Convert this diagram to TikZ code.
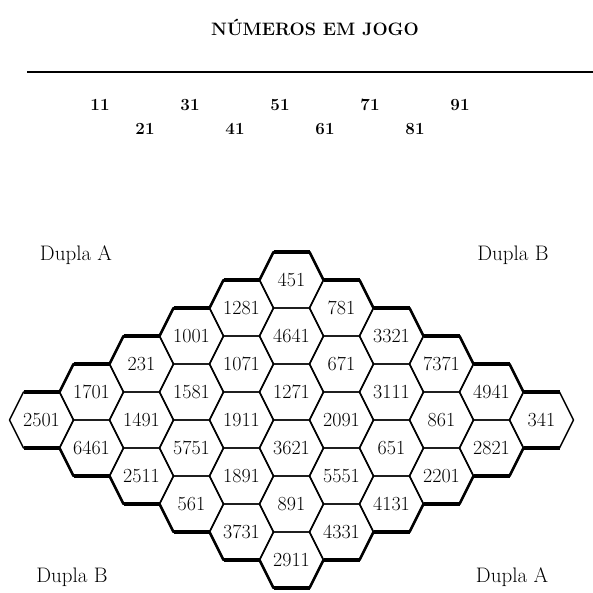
\documentclass[tikz,border=0pt]{standalone}
\usepackage{fontspec}
\begin{document}
\begin{tikzpicture}[x=1pt,y=-1pt,
    hexedge/.style={line width=1.4pt, line join=round},
    bordaH/.style={line width=4pt},
    bordaS/.style={line width=2.6pt, line cap=round},
    hexnum/.style={font=\fontsize{20}{22}\selectfont, inner sep=0pt},
    jogo/.style={font=\fontsize{17}{19}\selectfont\bfseries, inner sep=0pt, anchor=base},
    dupla/.style={font=\fontsize{21}{23}\selectfont, inner sep=0pt, anchor=base}]
    \useasboundingbox (0,0) rectangle (593,592);

    \node[font=\fontsize{18}{20}\selectfont\bfseries, inner sep=0pt, anchor=base] (titulo) at (315,35) {NÚMEROS EM JOGO};
    \coordinate (linhaE) at (27,72);
    \coordinate (linhaD) at (593,72);
    \draw[line width=2pt] (linhaE) -- (linhaD);

    \foreach \x/\y/\n in {100/110/11,145/134/21,190/110/31,235/134/41,280/110/51,
                          325/134/61,370/110/71,415/134/81,460/110/91} {
        \node[jogo] (j\n) at (\x,\y) {\n};
    }

    \foreach \i/\j/\num in {0/0/451, 1/0/1281, 2/0/1001, 3/0/231, 4/0/1701, 5/0/2501,
                            0/1/781, 1/1/4641, 2/1/1071, 3/1/1581, 4/1/1491, 5/1/6461,
                            0/2/3321, 1/2/671, 2/2/1271, 3/2/1911, 4/2/5751, 5/2/2511,
                            0/3/7371, 1/3/3111, 2/3/2091, 3/3/3621, 4/3/1891, 5/3/561,
                            0/4/4941, 1/4/861, 2/4/651, 3/4/5551, 4/4/891, 5/4/3731,
                            0/5/341, 1/5/2821, 2/5/2201, 3/5/4131, 4/5/4331, 5/5/2911} {
        \coordinate (c\num) at ({291.5+50*(\j-\i)},{280+28*(\i+\j)});
        \draw[hexedge] (c\num) ++(-32,0) -- ++(14,-28) -- ++(36,0) -- ++(14,28)
            -- ++(-14,28) -- ++(-36,0) -- cycle;
        \node[hexnum] (n\num) at (c\num) {\num};
    }

    \foreach \c in {0,...,10} {
        \pgfmathsetmacro{\xx}{41.5+50*\c}
        \pgfmathsetmacro{\dd}{28*abs(5-\c)}
        \draw[bordaH] ({\xx-18},{252+\dd}) -- ({\xx+18},{252+\dd});
        \draw[bordaH] ({\xx-18},{588-\dd}) -- ({\xx+18},{588-\dd});
    }
    \foreach \c in {0,...,9} {
        \pgfmathsetmacro{\xx}{41.5+50*\c}
        \pgfmathsetmacro{\dd}{28*abs(5-\c)}
        \pgfmathsetmacro{\de}{28*abs(4-\c)}
        \draw[bordaS] ({\xx+18},{252+\dd}) -- ({\xx+32},{252+\de});
        \draw[bordaS] ({\xx+18},{588-\dd}) -- ({\xx+32},{588-\de});
    }

    \node[dupla] (duplaA) at (76,260) {Dupla A};
    \node[dupla] (duplaB) at (513,260) {Dupla B};
    \node[dupla] (duplaBb) at (72,582) {Dupla B};
    \node[dupla] (duplaAb) at (512,582) {Dupla A};
\end{tikzpicture}
\end{document}
